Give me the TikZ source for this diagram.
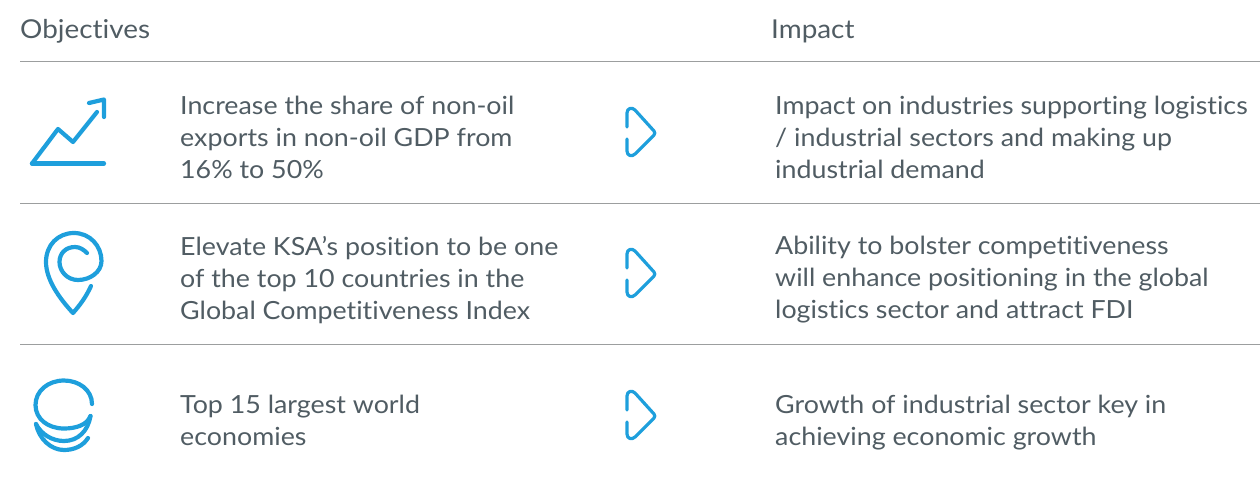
\documentclass[tikz,border=0pt]{standalone}
\usepackage{fontspec}
\setmainfont[FakeStretch=1.072,Ligatures=NoCommon]{Lato}
\definecolor{ink}{HTML}{505C63}
\definecolor{rule}{HTML}{9C9E9F}
\definecolor{icon}{HTML}{1E9FDC}
\tikzset{
  txt/.style={anchor=west,align=left,inner sep=0pt,text=ink,font=\fontsize{25}{32}\selectfont},
  head/.style={anchor=base west,inner sep=0pt,text=ink,font=\fontsize{26}{30}\selectfont},
  sep/.style={draw=rule,line width=1pt},
  ico/.style={draw=icon,line width=4.2pt,line cap=round,line join=round},
  chev/.style={draw=icon,line width=3.2pt,line cap=round,line join=round}
}
\begin{document}
\begin{tikzpicture}[x=1pt,y=-1pt]
\useasboundingbox (0,0) rectangle (1260,480);
\node[head] (h1) at (20,38.7) {Objectives};
\node[head] (h2) at (771,38.7) {Impact};
\draw[sep] (20,61) -- (1260,61);
\draw[sep] (20,203) -- (1260,203);
\draw[sep] (20,344.6) -- (1260,344.6);
% row 1
\draw[ico] (32,163.5) -- (104,163.5);
\draw[ico] (32,163.5) -- (58,129) -- (73,142) -- (97,112) ;
\draw[ico] (89,103) -- (104,99.5) -- (104,117);
\node[txt] (a1) at (180,137) {Increase the share of non-oil\\exports in non-oil GDP from\\16\% to 50\%};
\node[txt] (b1) at (775,137) {Impact on industries supporting logistics\\/ industrial sectors and making up\\industrial demand};
% row 2
\draw[ico] (91,286) .. controls (86,297) and (80,305) .. (73,313)
  .. controls (60,299) and (46,280) .. (46,262)
  .. controls (46,245) and (58,233) .. (74,233)
  .. controls (90,233) and (101.5,246) .. (101.5,261)
  .. controls (101.5,272) and (90,280) .. (78,280)
  .. controls (67,280) and (59.5,271) .. (59.5,262)
  .. controls (59.5,253) and (66,247) .. (75,247)
  .. controls (80,247) and (84,250) .. (87,253);
\node[txt] (a2) at (180,280) {Elevate KSA’s position to be one\\of the top 10 countries in the\\Global Competitiveness Index};
\node[txt] (b2) at (775,280) {Ability to bolster competitiveness\\will enhance positioning in the global\\logistics sector and attract FDI};
% row 3
\draw[ico] (92,404) .. controls (92,390) and (79,380.5) .. (64,380.5)
  .. controls (48,380.5) and (35.5,391) .. (35.5,405)
  .. controls (35.5,419) and (48,428.5) .. (64,428.5)
  .. controls (76,428.5) and (87,425) .. (90.5,416);
\draw[ico] (36,424) .. controls (41,434) and (52,441) .. (64,441)
  .. controls (78,441) and (88,431) .. (90.5,416);
\draw[ico] (36,424) .. controls (39,439) and (51,450) .. (64,450)
  .. controls (74,450) and (83,446) .. (88,438);
\node[txt] (a3) at (180,420) {Top 15 largest world\\economies};
\node[txt] (b3) at (775,423) {Growth of industrial sector key in\\achieving economic growth};
% chevrons
\foreach \n/\y in {c1/133,c2/274,c3/416}{
  \coordinate (\n) at (655,\y);
  \draw[chev] ([shift={(-28,-6)}]\n) -- ([shift={(-28,-20)}]\n)
    .. controls ([shift={(-28,-25)}]\n) and ([shift={(-23,-26)}]\n) .. ([shift={(-20,-23)}]\n)
    -- ([shift={(-1,-2)}]\n) .. controls ([shift={(0,-1)}]\n) and ([shift={(0,1)}]\n) .. ([shift={(-1,2)}]\n)
    -- ([shift={(-20,21)}]\n)
    .. controls ([shift={(-23,24)}]\n) and ([shift={(-28,23)}]\n) .. ([shift={(-28,18)}]\n)
    -- ([shift={(-28,6)}]\n);
}
\end{tikzpicture}
\end{document}
